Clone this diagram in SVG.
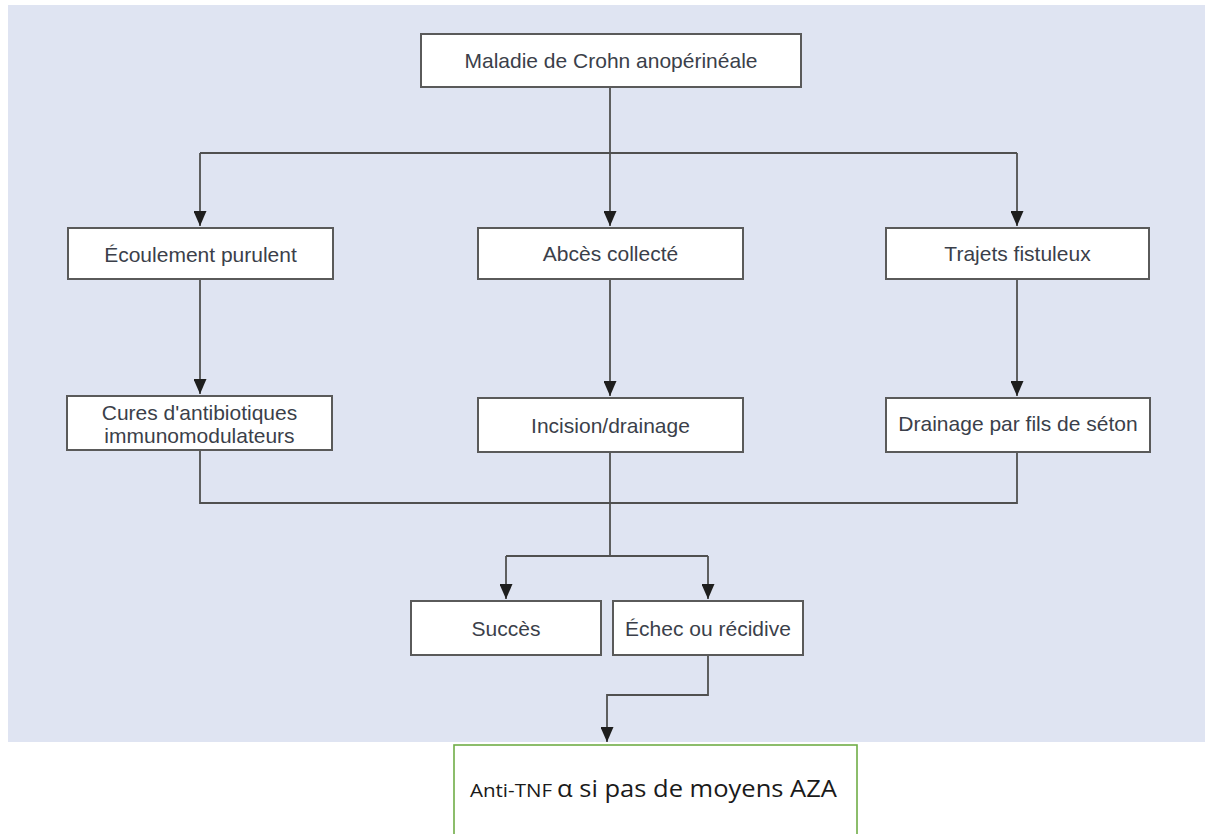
<svg xmlns="http://www.w3.org/2000/svg" width="1213" height="834" viewBox="0 0 1213 834">
  <style>
    .box { fill: #ffffff; stroke: #5a5a5a; stroke-width: 2; }
    .lbl { font-family: "Liberation Sans", Arial, sans-serif; font-size: 21px; fill: #3b3f4a; text-anchor: middle; }
    .conn { fill: none; stroke: #505050; stroke-width: 1.8; }
    .green { fill: #ffffff; stroke: #70ad47; stroke-width: 1.6; }
    .cal { font-family: "Open Sans", "Noto Sans", sans-serif; fill: #1a1a1a; }
  </style>
  <defs>
    <marker id="arr" markerUnits="userSpaceOnUse" markerWidth="15" markerHeight="13" refX="15" refY="6.5" orient="auto">
      <path d="M0,0 L15,6.5 L0,13 z" fill="#1e1e1e"/>
    </marker>
  </defs>
  <rect x="0" y="0" width="1213" height="834" fill="#ffffff"/>
  <rect x="8" y="5" width="1197" height="737" fill="#dfe4f2"/>

  <g id="connectors">
    <path class="conn" d="M610,87 V226" marker-end="url(#arr)"/>
    <path class="conn" d="M200,153 H1017"/>
    <path class="conn" d="M200,153 V226" marker-end="url(#arr)"/>
    <path class="conn" d="M1017,153 V226" marker-end="url(#arr)"/>
    <path class="conn" d="M200,279 V394" marker-end="url(#arr)"/>
    <path class="conn" d="M610,279 V396" marker-end="url(#arr)"/>
    <path class="conn" d="M1017,279 V396" marker-end="url(#arr)"/>
    <path class="conn" d="M200,450 V503 H1017 V452"/>
    <path class="conn" d="M610,452 V556"/>
    <path class="conn" d="M506,556 H708"/>
    <path class="conn" d="M506,556 V599" marker-end="url(#arr)"/>
    <path class="conn" d="M708,556 V599" marker-end="url(#arr)"/>
    <path class="conn" d="M708,655 V695 H607 V742" marker-end="url(#arr)"/>
  </g>

  <g id="n-maladie">
    <rect class="box" x="421" y="34" width="380" height="53"/>
    <text class="lbl" x="611" y="68">Maladie de Crohn anopérinéale</text>
  </g>
  <g id="n-ecoulement">
    <rect class="box" x="68" y="228" width="265" height="51"/>
    <text class="lbl" x="200.5" y="262">Écoulement purulent</text>
  </g>
  <g id="n-abces">
    <rect class="box" x="478" y="228" width="265" height="51"/>
    <text class="lbl" x="610.5" y="261">Abcès collecté</text>
  </g>
  <g id="n-trajets">
    <rect class="box" x="886" y="228" width="263" height="51"/>
    <text class="lbl" x="1017.5" y="261">Trajets fistuleux</text>
  </g>
  <g id="n-cures">
    <rect class="box" x="67" y="396" width="265" height="54"/>
    <text class="lbl" x="199.5" y="420">Cures d'antibiotiques</text>
    <text class="lbl" x="199.5" y="443">immunomodulateurs</text>
  </g>
  <g id="n-incision">
    <rect class="box" x="478" y="398" width="265" height="54"/>
    <text class="lbl" x="610.5" y="433">Incision/drainage</text>
  </g>
  <g id="n-drainage">
    <rect class="box" x="886" y="398" width="264" height="54"/>
    <text class="lbl" x="1018" y="431">Drainage par fils de séton</text>
  </g>
  <g id="n-succes">
    <rect class="box" x="411" y="601" width="190" height="54"/>
    <text class="lbl" x="506" y="636">Succès</text>
  </g>
  <g id="n-echec">
    <rect class="box" x="613" y="601" width="190" height="54"/>
    <text class="lbl" x="708" y="636">Échec ou récidive</text>
  </g>
  <g id="n-antitnf">
    <rect class="green" x="454" y="745" width="403" height="100"/>
    <text class="cal" x="470" y="797" font-size="19" textLength="82" lengthAdjust="spacingAndGlyphs">Anti-TNF</text>
    <text class="cal" x="557" y="797" font-size="23" textLength="280" lengthAdjust="spacingAndGlyphs">α si pas de moyens AZA</text>
  </g>
</svg>
